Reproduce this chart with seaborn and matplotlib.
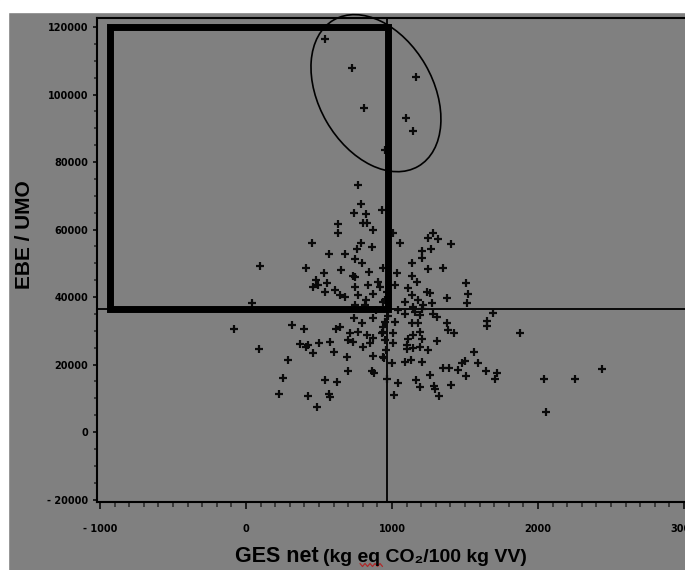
import numpy as np
import pandas as pd
import matplotlib
matplotlib.use("Agg")
import matplotlib.pyplot as plt
import seaborn as sns
from matplotlib.patches import Rectangle, Ellipse
from matplotlib.lines import Line2D
from matplotlib.transforms import ScaledTranslation
from matplotlib.ticker import MultipleLocator, FuncFormatter

# ---- data ----
ges_net = [541, 726, 1164, 808, 1096, 1144, 952, 767, 788, 740, 822, 931, 630, 630, 801, 829,
           870, 452, 788, 760, 863, 568, 678, 747, 795, 96, 411, 534, 651, 733, 842, 938,
           479, 555, 493, 459, 747, 836, 904, 918, 541, 610, 644, 678, 767, 870, 747,
           1007, 1055, 1281, 1247, 1315, 1404, 1205, 1267, 1205, 1137, 1349, 1247, 1034,
           1137, 1171, 1021, 1507, 1110, 1240, 1260, 1521, 1137, 1377,
           41, 747, 815, 938, -82, 315, 397, 644, 616, 740, 795, 870, 712, 767, 938, 931,
           699, 829, 870, 849, 801, 370, 425, 411, 500, 575, 733, 89, 459, 603, 692, 870,
           945, 288, 699, 863, 877, 253, 541, 623, 226, 425, 568, 575, 486,
           1514, 952, 1089, 1178, 1274, 1212, 1144, 1041, 1089, 1158, 1192, 1205, 1281,
           1308, 1692, 1651, 1651, 952, 1021, 1137, 1178, 1377, 1384, 1425, 1877, 938,
           1007, 1192, 1144, 1110, 1205, 1308, 1007, 1103, 1144, 1192, 1247, 1103, 1562,
           938, 1000, 1089, 1130, 1205, 1500, 1479, 1589, 1349, 1390, 1452, 1644, 1719,
           1705, 1260, 1507, 966, 1164, 1041, 1192, 1288, 1295, 1404, 1014, 1322,
           2041, 2253, 2438, 2055,
           966, 973, 952, 959, 890, 822]
ebe_umo = [116400, 107900, 105200, 96000, 93000, 89200, 83600, 73200, 67600, 64900, 64600,
           65800, 61600, 59000, 61900, 61900, 59900, 56000, 56000, 54200, 54800, 52700,
           52700, 51300, 50100, 49200, 48600, 47100, 48000, 46200, 47400, 48600, 45000,
           44100, 43600, 43000, 43000, 43600, 44400, 43000, 41500, 42100, 40600, 40000,
           40600, 40900, 45900,
           59000, 56000, 59000, 57500, 57200, 55700, 53600, 54200, 51600, 50100, 48600,
           48300, 47100, 46200, 44400, 43600, 44100, 42700, 41500, 41200, 40900, 40600,
           39700,
           38200, 37600, 37600, 38500, 30500, 31700, 30500, 31100, 30500, 33800, 32300,
           33800, 29300, 29600, 31100, 29300, 27300, 28700, 27900, 26400, 25200, 26100,
           25800, 25200, 26400, 26700, 26700, 24600, 23400, 23700, 22200, 22500, 21900,
           21300, 18100, 18100, 17500, 16000, 15400, 14800, 11300, 10700, 11300, 10400,
           7400,
           38200, 39100, 38500, 39100, 38200, 37600, 37000, 36100, 35000, 35600, 34700,
           36400, 35000, 34100, 35300, 32900, 31400, 32600, 32600, 32300, 32300, 32300,
           30200, 29300, 29300, 29600, 29300, 29600, 28700, 27600, 27600, 27000, 26400,
           25800, 24900, 25200, 24300, 24600, 23700, 22200, 20400, 20700, 21300, 20700,
           21000, 20400, 20400, 19000, 19000, 18400, 18100, 17500, 15700, 16900, 16600,
           15700, 15400, 14500, 13300, 13600, 12700, 13900, 11000, 10700,
           15700, 15700, 18700, 5900,
           41500, 34400, 27300, 24300, 36100, 39100]

ges_threshold = 965
ebe_threshold = 36400
box_x = [-930, 975]
box_y = [36400, 120000]
ellipse_center = [890, 100400]

x_ticks = [-1000, 0, 1000, 2000, 3000]
y_ticks = [-20000, 0, 20000, 40000, 60000, 80000, 100000, 120000]

df = pd.DataFrame({"ges": ges_net, "ebe": ebe_umo})

# ---- figure ----
sns.set_style("ticks")
plt.rcParams["font.family"] = ["Liberation Sans", "DejaVu Sans"]

GRAY = "#808080"
W, H = 685, 570
fig = plt.figure(figsize=(W / 100, H / 100), dpi=100, facecolor=GRAY)
# white strips at top and left of the reference image
fig.patches.append(Rectangle((0, 1 - 12 / H), 1, 12 / H, transform=fig.transFigure,
                             color="white", zorder=0))
fig.patches.append(Rectangle((0, 0), 8 / W, 1, transform=fig.transFigure,
                             color="white", zorder=0))

ax = fig.add_axes([97 / W, 68 / H, (700 - 97) / W, 484 / H])
ax.set_facecolor(GRAY)

sns.scatterplot(data=df, x="ges", y="ebe", marker="+", s=34, color="#0a0a0a",
                linewidth=1.6, ax=ax, legend=False, zorder=3)

ax.axvline(ges_threshold, color="black", lw=1.3, zorder=2)
ax.axhline(ebe_threshold, color="black", lw=1.3, zorder=2)
ax.add_patch(Rectangle((box_x[0], box_y[0]), box_x[1] - box_x[0], box_y[1] - box_y[0],
                       fill=False, lw=5, edgecolor="black", joinstyle="miter", zorder=4))

ell = Ellipse((0, 0), 1.69, 1.14, angle=-60, fill=False, lw=1.2, edgecolor="black",
              transform=fig.dpi_scale_trans + ScaledTranslation(ellipse_center[0], ellipse_center[1], ax.transData),
              clip_on=False, zorder=5)
ax.add_artist(ell)

ax.set_xlim(-1021, 3110)
ax.set_ylim(-20740, 122670)
ax.set_xticks(x_ticks)
ax.set_yticks(y_ticks)
ax.xaxis.set_minor_locator(MultipleLocator(100))
ax.yaxis.set_minor_locator(MultipleLocator(5000))

fmt = FuncFormatter(lambda v, p: ("- %d" % abs(v)) if v < 0 else "%d" % v)
ax.xaxis.set_major_formatter(fmt)
ax.yaxis.set_major_formatter(fmt)

for sp in ["left", "bottom", "top"]:
    ax.spines[sp].set_linewidth(1.5)
    ax.spines[sp].set_color("black")
ax.spines["right"].set_visible(False)

ax.tick_params(axis="x", which="major", direction="out", length=5, width=1.1, pad=11,
               labelsize=7, colors="black")
ax.tick_params(axis="x", which="minor", direction="out", length=3.5, width=1.1)
ax.tick_params(axis="y", which="major", direction="out", length=3, width=1.1, pad=3.5,
               labelsize=7, colors="black")
ax.tick_params(axis="y", which="minor", direction="out", length=2.5, width=1.1)
for lab in ax.get_xticklabels() + ax.get_yticklabels():
    lab.set_fontweight("bold")
    lab.set_family(["DejaVu Sans"])
ax.set_xlabel("")
ax.set_ylabel("")

fig.text(25 / W, 1 - 235 / H, "EBE / UMO", rotation=90, ha="center", va="center",
         fontsize=15, fontweight="bold", color="black")
fig.text(235 / W, 8 / H, "GES net", ha="left", va="baseline", fontsize=15.5,
         fontweight="bold", color="black")
fig.text(323 / W, 8 / H, "(kg eq CO\u2082/100 kg VV)", ha="left", va="baseline",
         fontsize=14, fontweight="bold", color="black")
# spell-check squiggle under "eq"
sq_x = np.arange(360, 383, 2.5)
sq_y = np.where(np.arange(len(sq_x)) % 2 == 0, 563.5, 566.5)
fig.lines.append(Line2D(sq_x / W, 1 - sq_y / H, transform=fig.transFigure,
                        color="#b02a2a", lw=0.9))

fig.savefig("out.png", dpi=100, facecolor=GRAY)
